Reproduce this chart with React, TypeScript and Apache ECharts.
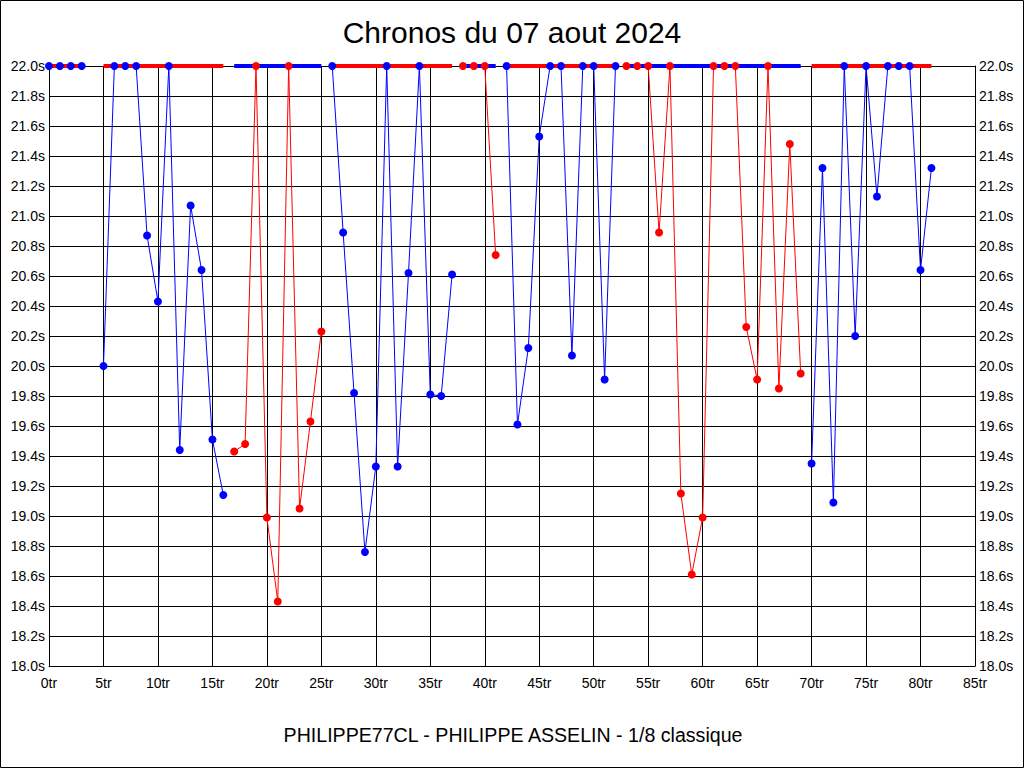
import React, { useEffect, useRef } from "react";
import * as echarts from "echarts";

// Lap numbers where each stint starts, stint colours, and lap times (capped at 22.0s)
const stintStarts = [0, 5, 17, 26, 38, 42, 53, 70];
const stintColors = ["#0000ff", "#0000ff", "#ff0000", "#0000ff", "#ff0000", "#0000ff", "#ff0000", "#0000ff"];
const barColors = ["#ff0000", "#ff0000", "#0000ff", "#ff0000", "#0000ff", "#ff0000", "#0000ff", "#ff0000"];

const stint1 = [22.0, 22.0, 22.0, 22.0];
const stint2 = [20.0, 22.0, 22.0, 22.0, 20.87, 20.43, 22.0, 19.44, 21.07, 20.64, 19.51, 19.14];
const stint3 = [19.43, 19.48, 22.0, 18.99, 18.43, 22.0, 19.05, 19.63, 20.23];
const stint4 = [22.0, 20.89, 19.82, 18.76, 19.33, 22.0, 19.33, 20.62, 22.0, 19.81, 19.80, 20.61];
const stint5 = [22.0, 22.0, 22.0, 20.74];
const stint6 = [22.0, 19.61, 20.12, 21.53, 22.0, 22.0, 20.07, 22.0, 22.0, 19.91, 22.0];
const stint7 = [22.0, 22.0, 22.0, 20.89, 22.0, 19.15, 18.61, 18.99, 22.0, 22.0, 22.0, 20.26, 19.91, 22.0, 19.85, 21.48, 19.95];
const stint8 = [19.35, 21.32, 19.09, 22.0, 20.2, 22.0, 21.13, 22.0, 22.0, 22.0, 20.64, 21.32];

const stints = [stint1, stint2, stint3, stint4, stint5, stint6, stint7, stint8];

const xTicks = { min: 0, max: 85, interval: 5, suffix: "tr" };
const yTicks = { min: 18, max: 22, interval: 0.2, suffix: "s" };

const titleText = "Chronos du 07 aout 2024";
const footerText = "PHILIPPE77CL - PHILIPPE ASSELIN - 1/8 classique";

export default function App() {
  const ref = useRef<HTMLDivElement>(null);

  useEffect(() => {
    if (!ref.current) return;
    const chart = echarts.init(ref.current, null, { renderer: "svg" });
    const font = "Liberation Sans, Arial, sans-serif";

    const series: any[] = [];
    stints.forEach((vals, i) => {
      const data = vals.map((v, k) => [stintStarts[i] + k, v]);
      series.push({
        type: "line",
        data,
        z: 2,
        showSymbol: false,
        symbol: "none",
        lineStyle: { color: stintColors[i], width: 1 },
        itemStyle: { color: stintColors[i] },
        silent: true,
      });
      series.push({
        type: "line",
        data: [
          [stintStarts[i], yTicks.max],
          [stintStarts[i] + vals.length - 1, yTicks.max],
        ],
        z: 3,
        symbol: "none",
        lineStyle: { color: barColors[i], width: 4 },
        silent: true,
      });
      series.push({
        type: "scatter",
        data,
        z: 4,
        symbol: "circle",
        symbolSize: 8,
        itemStyle: { color: stintColors[i], opacity: 1 },
        silent: true,
      });
    });

    const yAxisBase = {
      type: "value",
      min: yTicks.min,
      max: yTicks.max,
      interval: yTicks.interval,
      axisLine: { show: true, lineStyle: { color: "#000", width: 1 } },
      axisTick: { show: false },
      axisLabel: {
        color: "#000",
        fontFamily: font,
        fontSize: 14,
        margin: 4,
        formatter: (v: number) => v.toFixed(1) + yTicks.suffix,
      },
    };

    chart.setOption({
      animation: false,
      backgroundColor: "#ffffff",
      title: {
        text: titleText,
        left: "center",
        top: 12,
        textStyle: { fontFamily: font, fontSize: 30, fontWeight: "normal", color: "#000" },
      },
      grid: { left: 49, right: 49, top: 66, bottom: 102, containLabel: false },
      xAxis: {
        type: "value",
        min: xTicks.min,
        max: xTicks.max,
        interval: xTicks.interval,
        axisLine: { show: true, onZero: false, lineStyle: { color: "#000", width: 1 } },
        axisTick: { show: false },
        splitLine: { show: true, lineStyle: { color: "#000", width: 1 } },
        axisLabel: {
          color: "#000",
          fontFamily: font,
          fontSize: 14,
          margin: 10,
          formatter: (v: number) => v + xTicks.suffix,
        },
      },
      yAxis: [
        { ...yAxisBase, position: "left", splitLine: { show: true, lineStyle: { color: "#000", width: 1 } } },
        { ...yAxisBase, position: "right", splitLine: { show: false } },
      ],
      graphic: [
        {
          type: "rect",
          shape: { x: 0.5, y: 0.5, width: 1023, height: 767 },
          style: { fill: "none", stroke: "#000", lineWidth: 1 },
          silent: true,
        },
        {
          type: "text",
          x: 513,
          y: 735,
          style: {
            text: footerText,
            fontFamily: font,
            fontSize: 19.6,
            fill: "#000",
            align: "center",
            verticalAlign: "middle",
          },
          silent: true,
        },
      ],
      series,
    });

    return () => chart.dispose();
  }, []);

  return (
    <div
      ref={ref}
      style={{ position: "absolute", left: 0, top: 0, width: 1024, height: 768, background: "#fff" }}
    />
  );
}
